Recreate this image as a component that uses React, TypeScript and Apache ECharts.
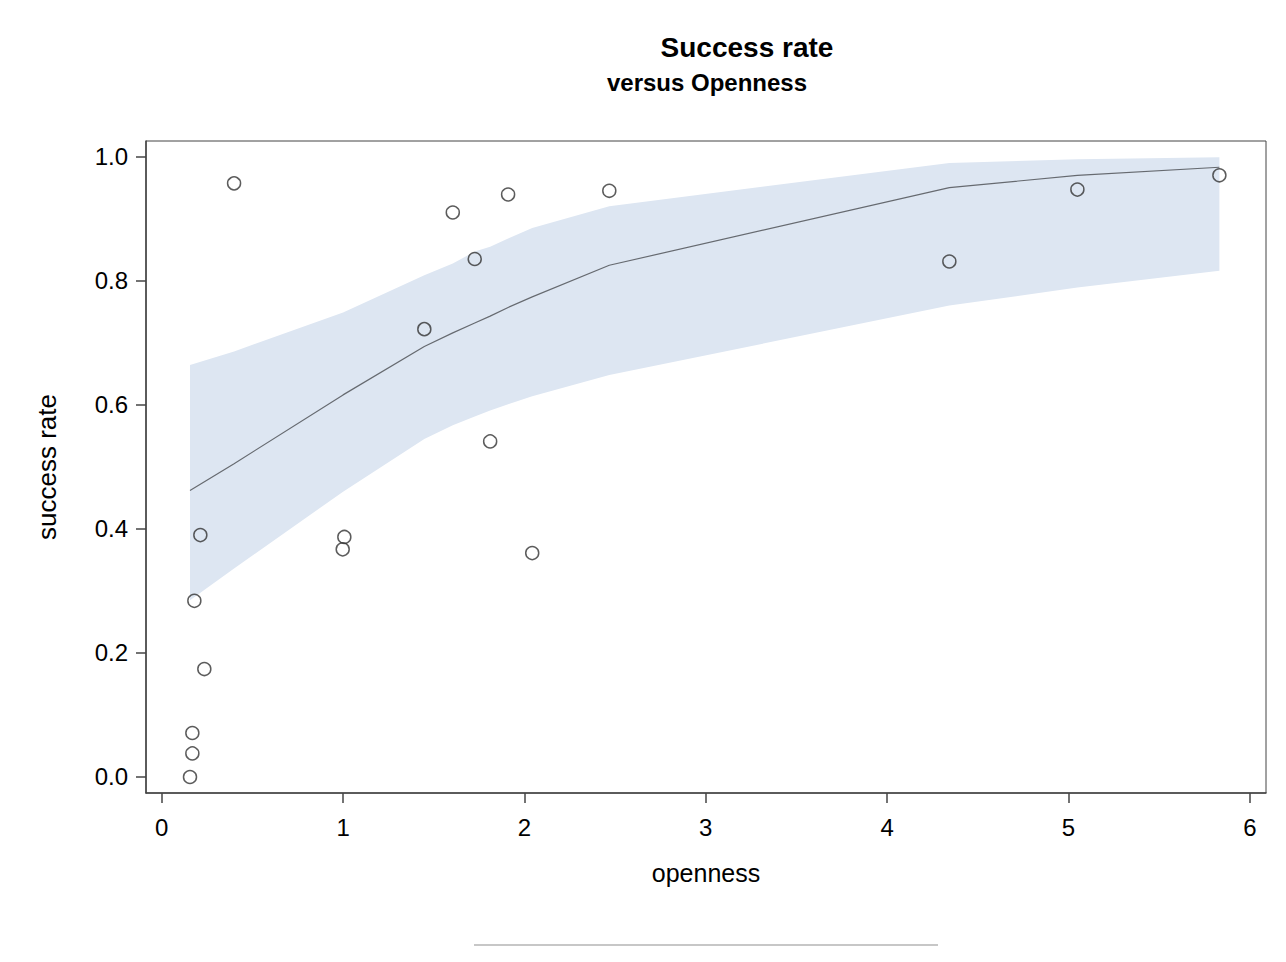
import React, { useEffect, useRef } from "react";
import * as echarts from "echarts";

// Observed data points (openness, success rate)
const pointX = [0.399, 0.213, 0.180, 0.235, 0.169, 0.169, 0.156, 1.007, 0.998, 1.448, 1.605, 1.726, 1.811, 1.910, 2.043, 2.468, 4.343, 5.049, 5.832];
const pointY = [0.957, 0.390, 0.284, 0.174, 0.071, 0.038, 0.000, 0.387, 0.367, 0.722, 0.910, 0.835, 0.541, 0.939, 0.361, 0.945, 0.831, 0.947, 0.970];

// Fitted curve and confidence band (evaluated at sorted openness values)
const fitX = [0.156, 0.399, 1.0, 1.448, 1.605, 1.726, 1.811, 1.910, 2.043, 2.468, 4.343, 5.049, 5.832];
const fitY = [0.462, 0.505, 0.616, 0.694, 0.716, 0.732, 0.743, 0.757, 0.774, 0.825, 0.950, 0.970, 0.983];
const bandUpper = [0.664, 0.686, 0.749, 0.809, 0.828, 0.847, 0.855, 0.868, 0.885, 0.920, 0.990, 0.996, 0.999];
const bandLower = [0.285, 0.336, 0.460, 0.545, 0.567, 0.581, 0.591, 0.601, 0.614, 0.648, 0.760, 0.789, 0.816];

const xTicks = [0, 1, 2, 3, 4, 5, 6];
const yTicks = [0, 0.2, 0.4, 0.6, 0.8, 1.0];

const titleText = "Success rate";
const subtitleText = "versus Openness";
const xName = "openness";
const yName = "success rate";

const FONT = "'Liberation Sans', Arial, sans-serif";

export default function App() {
  const ref = useRef<HTMLDivElement>(null);
  useEffect(() => {
    if (!ref.current) return;
    const chart = echarts.init(ref.current, null, { renderer: "svg" });
    const bandData = fitX.map((x, i) => [x, bandLower[i], bandUpper[i]]);
    chart.setOption({
      animation: false,
      backgroundColor: "#ffffff",
      textStyle: { fontFamily: FONT },
      grid: {
        left: 146,
        top: 141,
        right: 20,
        bottom: 169,
        show: true,
        borderColor: "#444",
        borderWidth: 1,
        backgroundColor: "transparent",
      },
      graphic: [
        {
          type: "text",
          style: {
            text: titleText,
            x: 747,
            y: 47,
            textAlign: "center",
            textVerticalAlign: "middle",
            font: `bold 28px ${FONT}`,
            fill: "#000",
          },
        },
        {
          type: "text",
          style: {
            text: subtitleText,
            x: 707,
            y: 82,
            textAlign: "center",
            textVerticalAlign: "middle",
            font: `bold 24px ${FONT}`,
            fill: "#000",
          },
        },
        {
          type: "line",
          shape: { x1: 474, y1: 945, x2: 938, y2: 945 },
          style: { stroke: "#b4b4b4", lineWidth: 1.5 },
        },
      ],
      xAxis: {
        type: "value",
        min: -0.0866,
        max: 6.089,
        name: xName,
        nameLocation: "middle",
        nameGap: 67,
        nameTextStyle: { fontSize: 25, color: "#000", fontFamily: FONT },
        axisLine: { show: true, onZero: false, lineStyle: { color: "#444", width: 1.5 } },
        axisTick: { show: true, length: 10, customValues: xTicks, lineStyle: { color: "#444", width: 1.5 } },
        axisLabel: { customValues: xTicks, fontSize: 24, color: "#000", margin: 22, fontFamily: FONT },
        splitLine: { show: false },
      },
      yAxis: {
        type: "value",
        min: -0.0258,
        max: 1.0253,
        name: yName,
        nameLocation: "middle",
        nameGap: 86,
        nameRotate: 90,
        nameTextStyle: { fontSize: 26, color: "#000", fontFamily: FONT },
        axisLine: { show: true, onZero: false, lineStyle: { color: "#444", width: 1.5 } },
        axisTick: { show: true, length: 10, customValues: yTicks, lineStyle: { color: "#444", width: 1.5 } },
        axisLabel: {
          customValues: yTicks,
          fontSize: 24,
          color: "#000",
          margin: 18,
          fontFamily: FONT,
          formatter: (v: number) => v.toFixed(1),
        },
        splitLine: { show: false },
      },
      series: [
        {
          type: "custom",
          data: bandData,
          silent: true,
          z: 1,
          clip: true,
          renderItem: (params: any, api: any) => {
            if (params.dataIndex !== 0) return null;
            const upper = fitX.map((x, i) => api.coord([x, bandUpper[i]]));
            const lower = fitX.map((x, i) => api.coord([x, bandLower[i]])).reverse();
            return {
              type: "polygon",
              shape: { points: upper.concat(lower) },
              style: { fill: "#dde6f2", stroke: "none" },
            };
          },
          encode: { x: 0, y: [1, 2] },
        },
        {
          type: "line",
          data: fitX.map((x, i) => [x, fitY[i]]),
          showSymbol: false,
          symbol: "none",
          lineStyle: { color: "#666a70", width: 1.2 },
          z: 2,
        },
        {
          type: "scatter",
          data: pointX.map((x, i) => [x, pointY[i]]),
          symbol: "circle",
          symbolSize: 13,
          itemStyle: { color: "rgba(255,255,255,0)", borderColor: "#333", borderWidth: 1.5 },
          z: 3,
        },
      ],
    });
    return () => chart.dispose();
  }, []);
  return (
    <div
      ref={ref}
      style={{ position: "absolute", left: 0, top: 0, width: 1286, height: 962 }}
    />
  );
}
